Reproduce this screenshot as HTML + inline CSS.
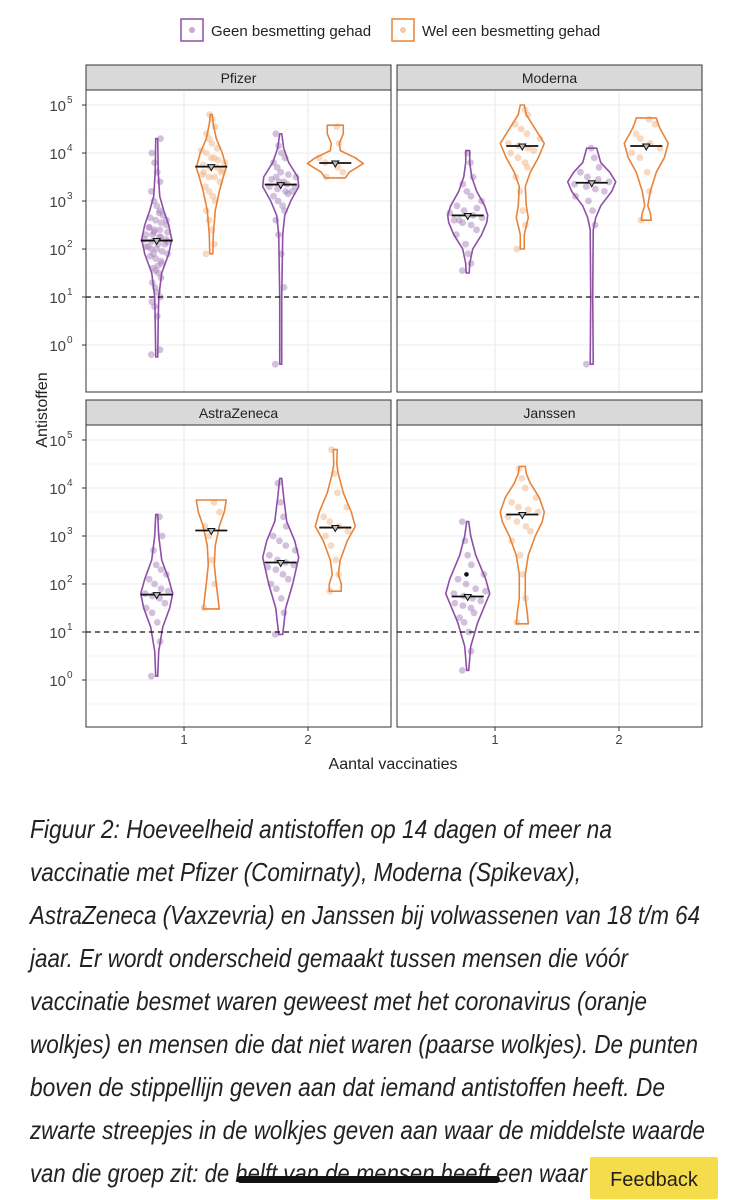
<!DOCTYPE html>
<html><head><meta charset="utf-8"><style>
body{margin:0;background:#fff;position:relative;width:735px;height:1200px;overflow:hidden;}
svg{display:block;font-family:"Liberation Sans",sans-serif;position:absolute;left:0;top:0;}
#caption{position:absolute;left:30px;top:0;font-family:"Liberation Sans",sans-serif;font-style:italic;font-size:26px;color:#222;}
#caption span{position:absolute;left:0;white-space:nowrap;transform-origin:0 0;line-height:30px;}
</style></head><body>
<svg id="chart" width="735" height="1200" viewBox="0 0 735 1200" xmlns="http://www.w3.org/2000/svg">
<g>
  <rect x="181" y="19" width="22" height="22" fill="#fff" stroke="#8e4fa7" stroke-width="1.5"/>
  <circle cx="192" cy="30" r="3" fill="#c8a9d6"/>
  <text x="211" y="36" font-size="15" fill="#222">Geen besmetting gehad</text>
  <rect x="392" y="19" width="22" height="22" fill="#fff" stroke="#e8843a" stroke-width="1.5"/>
  <circle cx="403" cy="30" r="3" fill="#f5c9a6"/>
  <text x="422" y="36" font-size="15" fill="#222">Wel een besmetting gehad</text>
</g>
<g id="panels"></g>
<text transform="translate(47,410) rotate(-90)" text-anchor="middle" font-size="16" fill="#222">Antistoffen</text>
<text x="393" y="769" text-anchor="middle" font-size="16" fill="#222">Aantal vaccinaties</text>
</svg>
<div id="caption">
<span style="top:814px" data-w="582">Figuur 2: Hoeveelheid antistoffen op 14 dagen of meer na</span>
<span style="top:857px" data-w="551">vaccinatie met Pfizer (Comirnaty), Moderna (Spikevax),</span>
<span style="top:900px" data-w="670">AstraZeneca (Vaxzevria) en Janssen bij volwassenen van 18 t/m 64</span>
<span style="top:943px" data-w="598">jaar. Er wordt onderscheid gemaakt tussen mensen die vóór</span>
<span style="top:986px" data-w="617">vaccinatie besmet waren geweest met het coronavirus (oranje</span>
<span style="top:1029px" data-w="668">wolkjes) en mensen die dat niet waren (paarse wolkjes). De punten</span>
<span style="top:1072px" data-w="635">boven de stippellijn geven aan dat iemand antistoffen heeft. De</span>
<span style="top:1115px" data-w="675">zwarte streepjes in de wolkjes geven aan waar de middelste waarde</span>
<span style="top:1158px" data-w="557">van die groep zit: de helft van de mensen heeft een waar</span>
</div>
<svg width="735" height="1200" style="pointer-events:none" xmlns="http://www.w3.org/2000/svg">
<rect x="237" y="1176" width="263" height="7" rx="3.5" fill="#111"/>
<g>
<rect x="590" y="1157" width="128" height="42" rx="2" fill="#f5dc4a"/>
<text x="654" y="1186" text-anchor="middle" font-size="20" fill="#222" font-family="Liberation Sans, sans-serif">Feedback</text>
</g>
</svg>
<script>
document.querySelectorAll('#caption span').forEach(s=>{
  const w=s.getBoundingClientRect().width;
  const t=+s.getAttribute('data-w');
  s.style.transform='scaleX('+(t/w)+')';
});
const NS='http://www.w3.org/2000/svg';
const panelNames=['Pfizer','Moderna','AstraZeneca','Janssen'];
const medians=[[150,5200,2200,6200],[500,14000,2400,14000],[60,1300,280,1500],[55,2800,null,null]];
// violin outlines: [log10 value, half-width px] per group (p1,o1,p2,o2)
const violins=[
 [[[-0.25,1],[0.5,1.5],[1,2],[1.5,5],[1.9,12],[2.2,15],[2.5,12],[2.8,7],[3.1,3],[3.6,1.5],[4.3,1]],
  [[1.9,1.5],[2.3,2],[2.8,4],[3.2,8],[3.5,12],[3.7,15],[4,11],[4.3,5],[4.6,2],[4.8,1]],
  [[-0.4,1],[1,1],[2.3,2],[2.7,4],[3,10],[3.3,18],[3.5,17],[3.8,8],[4.1,3],[4.4,1]],
  [[3.48,10],[3.6,14],[3.78,28],[3.9,20],[4.05,5],[4.2,4],[4.4,8],[4.58,8]]],
 [[[1.5,1.5],[1.7,2],[2.0,5],[2.3,14],[2.55,19],[2.7,20],[2.9,17],[3.2,9],[3.5,4],[3.8,2],[4.05,2]],
  [[2.0,2],[2.3,2],[2.65,6],[2.9,4],[3.3,3],[3.6,8],[3.9,16],[4.2,22],[4.5,13],[4.8,4],[5.0,2]],
  [[-0.4,1.5],[1,1],[2.4,1.5],[2.65,4],[2.9,9],[3.2,20],[3.4,24],[3.6,18],[3.8,9],[3.95,7],[4.1,5]],
  [[2.6,5],[2.75,4],[2.9,1.5],[3.2,4],[3.6,10],[3.9,18],[4.2,22],[4.5,14],[4.6,12],[4.73,10]]],
 [[[0.08,1],[0.6,2],[1.1,6],[1.5,13],[1.8,16],[2.1,12],[2.5,5],[3,2],[3.45,1]],
  [[1.48,8],[2.0,5],[2.4,3],[2.8,4],[3.2,8],[3.5,13],[3.75,15]],
  [[0.95,2],[1.5,5],[2.0,12],[2.55,18],[2.9,14],[3.3,6],[3.8,3],[4.2,1]],
  [[1.85,6],[2.0,6],[2.2,3],[2.5,5],[2.9,12],[3.2,20],[3.5,16],[3.9,8],[4.3,3],[4.5,1.5],[4.8,2]]],
 [[[0.2,1],[0.7,3],[1.2,10],[1.6,18],[1.8,22],[2.1,18],[2.6,8],[3.0,3],[3.3,1]],
  [[1.17,6],[1.4,5],[1.7,3],[2.2,3],[2.6,6],[3.0,13],[3.3,20],[3.5,22],[3.8,17],[4.1,8],[4.3,4],[4.45,3]],
  null,null]];
// observed points (log10 values) per group
const points=[
 [[-0.2,-0.1,0.6,0.8,0.9,1.0,1.1,1.2,1.3,1.4,1.5,1.55,1.6,1.7,1.75,1.8,1.85,1.9,1.95,2.0,2.0,2.05,2.1,2.1,2.15,2.2,2.2,2.25,2.3,2.3,2.35,2.4,2.4,2.45,2.5,2.55,2.6,2.65,2.7,2.8,2.9,3.0,3.2,3.4,3.6,3.8,4.0,4.3,1.65,1.9,2.05,2.15,2.25,2.35,2.45,2.6,2.75],
  [1.9,2.1,2.4,2.6,2.8,3.0,3.1,3.2,3.3,3.4,3.5,3.5,3.6,3.6,3.7,3.7,3.75,3.8,3.85,3.9,4.0,4.05,4.1,4.2,4.3,4.4,4.55,4.7,4.8,3.55,3.65,3.9],
  [-0.4,1.2,1.9,2.3,2.6,2.8,2.9,3.0,3.1,3.15,3.2,3.25,3.3,3.3,3.35,3.4,3.45,3.5,3.55,3.6,3.7,3.8,3.9,4.0,4.15,4.4,3.2,3.4,3.5],
  [3.5,3.6,3.7,3.8,3.9,4.2,4.55]],
 [[1.55,1.7,1.9,2.1,2.3,2.4,2.5,2.55,2.6,2.65,2.7,2.8,2.9,3.0,3.1,3.2,3.35,3.5,3.8,4.0,2.6,2.75,2.85],
  [2.0,2.5,2.8,3.2,3.5,3.7,3.8,3.9,4.0,4.05,4.1,4.15,4.2,4.3,4.4,4.5,4.6,4.8,4.9],
  [-0.4,2.5,2.8,3.0,3.1,3.2,3.25,3.3,3.35,3.4,3.45,3.5,3.6,3.7,3.9,4.1],
  [2.6,3.2,3.6,3.9,4.0,4.1,4.2,4.3,4.4,4.6,4.7]],
 [[0.08,0.8,1.2,1.4,1.5,1.6,1.7,1.75,1.8,1.85,1.9,2.0,2.1,2.2,2.3,2.4,2.7,3.0,3.4],
  [1.5,2.0,2.5,3.0,3.2,3.5,3.7],
  [0.95,1.4,1.7,1.9,2.0,2.1,2.2,2.3,2.35,2.4,2.45,2.5,2.6,2.7,2.8,2.9,3.0,3.2,3.4,3.7,4.1],
  [1.85,2.2,2.5,2.8,3.0,3.1,3.2,3.3,3.4,3.6,3.9,4.3,4.8]],
 [[0.2,0.6,1.0,1.2,1.3,1.4,1.5,1.55,1.6,1.65,1.7,1.75,1.8,1.85,1.9,2.0,2.1,2.2,2.4,2.6,2.9,3.3],
  [1.2,1.7,2.2,2.6,2.9,3.1,3.2,3.3,3.4,3.5,3.55,3.6,3.7,3.8,4.0,4.2,4.4],
  [],[]]];
const outlier=[null,null,null,[[0.77,2.2]]];
const xTicks=['1','2'];
const yTicks=[0,1,2,3,4,5];
const colors=['#8e4fa7','#e8843a','#8e4fa7','#e8843a'];
const ptColors=['#a882bc','#f2b486','#a882bc','#f2b486'];
const groupX=[0.78,1.22,1.78,2.22];

const P={w:305,h:302,strip:25};
const panelPos=[[86,65],[397,65],[86,400],[397,400]];
const root=document.getElementById('panels');
function el(tag,attrs,parent){const e=document.createElementNS(NS,tag);for(const k in attrs)e.setAttribute(k,attrs[k]);parent.appendChild(e);return e;}

panelNames.forEach((name,pi)=>{
  const [px,py]=panelPos[pi];
  const top=py+P.strip;
  const g=el('g',{},root);
  
  
  const xS=v=>px+98+(v-1)*124;
  const yS=l=>top+207-48*(l-1);
  el('rect',{x:px,y:top,width:P.w,height:P.h,fill:'#fff'},g);
  for(let l=-0.5;l<=5.5;l+=0.5){const y=yS(l);if(y<top||y>top+P.h)continue;
    el('line',{x1:px,x2:px+P.w,y1:y,y2:y,stroke:'#ebebeb','stroke-width':Number.isInteger(l)?1.1:0.6},g);}
  [1,2].forEach(v=>el('line',{x1:xS(v),x2:xS(v),y1:top,y2:top+P.h,stroke:'#ebebeb','stroke-width':1.1},g));
  const s=el('rect',{x:px,y:py,width:P.w,height:P.strip,fill:'#d9d9d9',stroke:'#333','stroke-width':1},g);
  
  
  const st=el('text',{x:px+P.w/2,y:py+18,'text-anchor':'middle','font-size':14,fill:'#222'},g);st.textContent=name;
  points[pi].forEach((arr,gi)=>{
    arr.forEach((l,i)=>{
      const vw=violins[pi][gi];let hw=10;
      if(vw){let best=vw[0];vw.forEach(p=>{if(Math.abs(p[0]-l)<Math.abs(best[0]-l))best=p;});hw=Math.max(best[1],6);}
      const off=(((i*37)%21)-10)/10*hw*0.9;
      const c=el('circle',{cx:xS(groupX[gi])+off,cy:yS(l),r:3.4,fill:ptColors[gi],'fill-opacity':0.5},g);
      
      
    });
  });
  violins[pi].forEach((v,gi)=>{
    if(!v)return;
    const cx=xS(groupX[gi]);
    const right=v.map(p=>[cx+p[1],yS(p[0])]);
    const left=v.slice().reverse().map(p=>[cx-p[1],yS(p[0])]);
    const pts=right.concat(left);
    let d='M'+pts.map(p=>p.join(',')).join(' L')+'Z';
    const vp=el('path',{d:d,fill:'none',stroke:colors[gi],'stroke-width':1.6,'stroke-linejoin':'round'},g);
    
    
  });
  medians[pi].forEach((m,gi)=>{
    if(m==null)return;
    const cx=xS(groupX[gi]),y=yS(Math.log10(m));
    const ml=el('line',{x1:cx-16,x2:cx+16,y1:y,y2:y,stroke:'#111','stroke-width':1.8},g);
    
    
    el('path',{d:`M${cx-3.5},${y-2} L${cx+3.5},${y-2} L${cx},${y+4}Z`,fill:'#bbb',stroke:'#111','stroke-width':1},g);
  });
  if(outlier[pi])outlier[pi].forEach(o=>el('circle',{cx:xS(o[0]),cy:yS(o[1]),r:2.3,fill:'#111'},g));
  const dl=el('line',{x1:px,x2:px+P.w,y1:yS(1),y2:yS(1),stroke:'#111','stroke-width':1.3,'stroke-dasharray':'5,4'},g);
  
  
  el('rect',{x:px,y:top,width:P.w,height:P.h,fill:'none',stroke:'#333','stroke-width':1},g);
  if(px<100){yTicks.forEach(t=>{const y=yS(t);
    el('line',{x1:px-4,x2:px,y1:y,y2:y,stroke:'#333'},g);
    const tx=el('text',{x:px-20,y:y+6,'text-anchor':'end','font-size':15,fill:'#444'},g);
    
    
    tx.textContent='10';
    const sp=el('text',{x:px-19,y:y-2,'font-size':10,fill:'#444'},g);sp.textContent=String(t);
  });}
  if(py>300){xTicks.forEach((t,i)=>{const x=xS(i+1);
    el('line',{x1:x,x2:x,y1:top+P.h,y2:top+P.h+4,stroke:'#333'},g);
    const tx=el('text',{x:x,y:top+P.h+17,'text-anchor':'middle','font-size':13,fill:'#444'},g);
    
    
    tx.textContent=t;});}
});
</script>
</body></html>
